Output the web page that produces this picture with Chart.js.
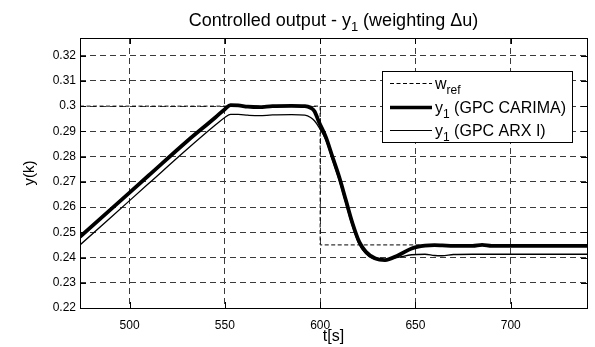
<!DOCTYPE html>
<html lang="en">
<head>
    <meta charset="UTF-8">
    <title>Controlled output - y1 (weighting Δu)</title>
    <style>
        body {
            margin: 0;
            background: #fff;
        }
        #chart-container {
            width: 595px;
            height: 347px;
        }
    </style>
</head>
<body>

    <div id="chart-container">
        <canvas id="outputChart" width="595" height="347"></canvas>
    </div>

    <script src="https://cdn.jsdelivr.net/npm/chart.js"></script>
    <script>
        // reference w_ref (step at t = 600 s)
        const tRef = [474, 600, 600, 740];
        const wRef = [0.3, 0.3, 0.245, 0.245];

        // controlled outputs
        const tOut = [474, 490, 510, 530, 545, 550, 553, 557, 562, 568, 575, 585, 592, 595, 597, 599.5,
                      603, 606.5, 610, 613.5, 617, 620.5, 624, 629, 634, 641, 648, 655, 660, 664, 670,
                      680, 685, 690, 700, 720, 740];
        const yCarima = [0.2482, 0.2590, 0.2725, 0.2860, 0.2955, 0.2988, 0.3004, 0.3003, 0.2998, 0.2996,
                         0.3000, 0.3001, 0.3000, 0.2993, 0.2980, 0.2935, 0.2877, 0.2798, 0.2719, 0.2627,
                         0.2535, 0.2462, 0.2423, 0.2396, 0.2390, 0.2409, 0.2436, 0.2447, 0.2449, 0.2448,
                         0.2446, 0.2446, 0.2450, 0.2446, 0.2446, 0.2446, 0.2446];
        const yArx = [0.2450, 0.2558, 0.2693, 0.2828, 0.2925, 0.2955, 0.2967, 0.2967, 0.2964, 0.2962,
                      0.2965, 0.2966, 0.2964, 0.2955, 0.2942, 0.2915, 0.2866, 0.2786, 0.2706, 0.2614,
                      0.2523, 0.2452, 0.2415, 0.2393, 0.2392, 0.2401, 0.2411, 0.2413, 0.2408, 0.2407,
                      0.2412, 0.2413, 0.2413, 0.2413, 0.2413, 0.2413, 0.2413];

        const xTicks = [500, 550, 600, 650, 700];
        const yTicks = [0.22, 0.23, 0.24, 0.25, 0.26, 0.27, 0.28, 0.29, 0.3, 0.31, 0.32];

        // legend: [base text, subscript, rest]
        const legendItems = [
            ['w', 'ref', ''],
            ['y', '1', ' (GPC CARIMA)'],
            ['y', '1', ' (GPC ARX I)']
        ];
        const FONT = '"Liberation Sans", Arial, sans-serif';

        const toPoints = (xs, ys) => xs.map((x, i) => ({ x: x, y: ys[i] }));

        // base + subscript + rest, returns the end x
        function subText(ctx, x, y, base, sub, rest, size) {
            ctx.font = size + 'px ' + FONT;
            ctx.fillText(base, x, y);
            x += ctx.measureText(base).width;
            ctx.font = Math.round(size * 0.72) + 'px ' + FONT;
            ctx.fillText(sub, x, y + size * 0.3);
            x += ctx.measureText(sub).width;
            ctx.font = size + 'px ' + FONT;
            ctx.fillText(rest, x, y);
            return x + ctx.measureText(rest).width;
        }

        const matlabLook = {
            id: 'matlabLook',
            afterDraw(chart) {
                const ctx = chart.ctx;
                const a = chart.chartArea;
                const xs = chart.scales.x, ys = chart.scales.y;
                ctx.save();
                ctx.fillStyle = '#000';
                ctx.strokeStyle = '#000';
                ctx.lineWidth = 1;

                // inner tick marks
                ctx.beginPath();
                xTicks.forEach(v => {
                    const px = Math.round(xs.getPixelForValue(v)) + 0.5;
                    ctx.moveTo(px, a.top); ctx.lineTo(px, a.top + 6);
                    ctx.moveTo(px, a.bottom); ctx.lineTo(px, a.bottom - 6);
                });
                yTicks.forEach(v => {
                    const py = Math.round(ys.getPixelForValue(v)) + 0.5;
                    ctx.moveTo(a.left, py); ctx.lineTo(a.left + 6, py);
                    ctx.moveTo(a.right, py); ctx.lineTo(a.right - 6, py);
                });
                ctx.stroke();

                // axes box
                ctx.strokeRect(Math.round(a.left) + 0.5, Math.round(a.top) + 0.5,
                    Math.round(a.right - a.left), Math.round(a.bottom - a.top));

                // title with subscript
                ctx.textBaseline = 'alphabetic';
                ctx.textAlign = 'left';
                const tSize = 18;
                const title = ['Controlled output - y', '1', ' (weighting \u0394u)'];
                const w = subText(ctx, 0, -100, title[0], title[1], title[2], tSize);
                subText(ctx, (a.left + a.right) / 2 - w / 2, 26, title[0], title[1], title[2], tSize);

                // legend
                const lx = 382, ly = 71, lw = 190, lh = 71;
                ctx.fillStyle = '#fff';
                ctx.fillRect(lx, ly, lw, lh);
                ctx.strokeRect(lx + 0.5, ly + 0.5, lw, lh);
                ctx.fillStyle = '#000';
                const rows = [83, 107, 130];
                const widths = [1, 3.5, 1.2];
                legendItems.forEach((it, i) => {
                    ctx.beginPath();
                    ctx.lineWidth = widths[i];
                    ctx.setLineDash(i === 0 ? [4, 2.5] : []);
                    ctx.moveTo(390, rows[i] + 0.5);
                    ctx.lineTo(432, rows[i] + 0.5);
                    ctx.stroke();
                    ctx.setLineDash([]);
                    subText(ctx, 435, rows[i] + 6, it[0], it[1], it[2], 16);
                });
                ctx.restore();
            }
        };

        const ctx = document.getElementById('outputChart').getContext('2d');
        const outputChart = new Chart(ctx, {
            type: 'line',
            data: {
                datasets: [{
                    label: 'y1 (GPC CARIMA)',
                    data: toPoints(tOut, yCarima),
                    borderColor: '#000',
                    borderWidth: 3.8,
                    pointRadius: 0,
                    cubicInterpolationMode: 'monotone'
                }, {
                    label: 'y1 (GPC ARX I)',
                    data: toPoints(tOut, yArx),
                    borderColor: '#000',
                    borderWidth: 1.3,
                    pointRadius: 0,
                    cubicInterpolationMode: 'monotone'
                }, {
                    label: 'wref',
                    data: toPoints(tRef, wRef),
                    borderColor: '#000',
                    borderWidth: 1,
                    borderDash: [4, 2.5],
                    pointRadius: 0,
                    tension: 0
                }]
            },
            options: {
                responsive: false,
                animation: false,
                devicePixelRatio: 1,
                layout: { padding: { top: 38, right: 8, left: 0, bottom: 0 } },
                plugins: {
                    legend: { display: false },
                    title: { display: false },
                    tooltip: { enabled: false }
                },
                scales: {
                    x: {
                        type: 'linear',
                        min: 474,
                        max: 740,
                        afterBuildTicks: s => { s.ticks = xTicks.map(v => ({ value: v })); },
                        afterFit: s => { s.height = 39; },
                        grid: { color: '#3a3a3a', lineWidth: 1, drawTicks: false },
                        border: { display: false, dash: [6, 4] },
                        ticks: {
                            color: '#000',
                            padding: 10,
                            maxRotation: 0,
                            font: { family: FONT, size: 12 }
                        },
                        title: {
                            display: true,
                            text: 't[s]',
                            color: '#000',
                            font: { family: FONT, size: 16 },
                            padding: { top: 0, bottom: 1 }
                        }
                    },
                    y: {
                        min: 0.22,
                        max: 0.327,
                        afterBuildTicks: s => { s.ticks = yTicks.map(v => ({ value: v })); },
                        afterFit: s => { s.width = 80; },
                        grid: { color: '#3a3a3a', lineWidth: 1, drawTicks: false },
                        border: { display: false, dash: [6, 4] },
                        ticks: {
                            color: '#000',
                            padding: 4,
                            font: { family: FONT, size: 12 },
                            callback: v => String(Number(v.toFixed(2)))
                        },
                        title: {
                            display: true,
                            text: 'y(k)',
                            color: '#000',
                            font: { family: FONT, size: 15 },
                            padding: { top: 21, bottom: 0 }
                        }
                    }
                }
            },
            plugins: [matlabLook]
        });
    </script>

</body>
</html>
